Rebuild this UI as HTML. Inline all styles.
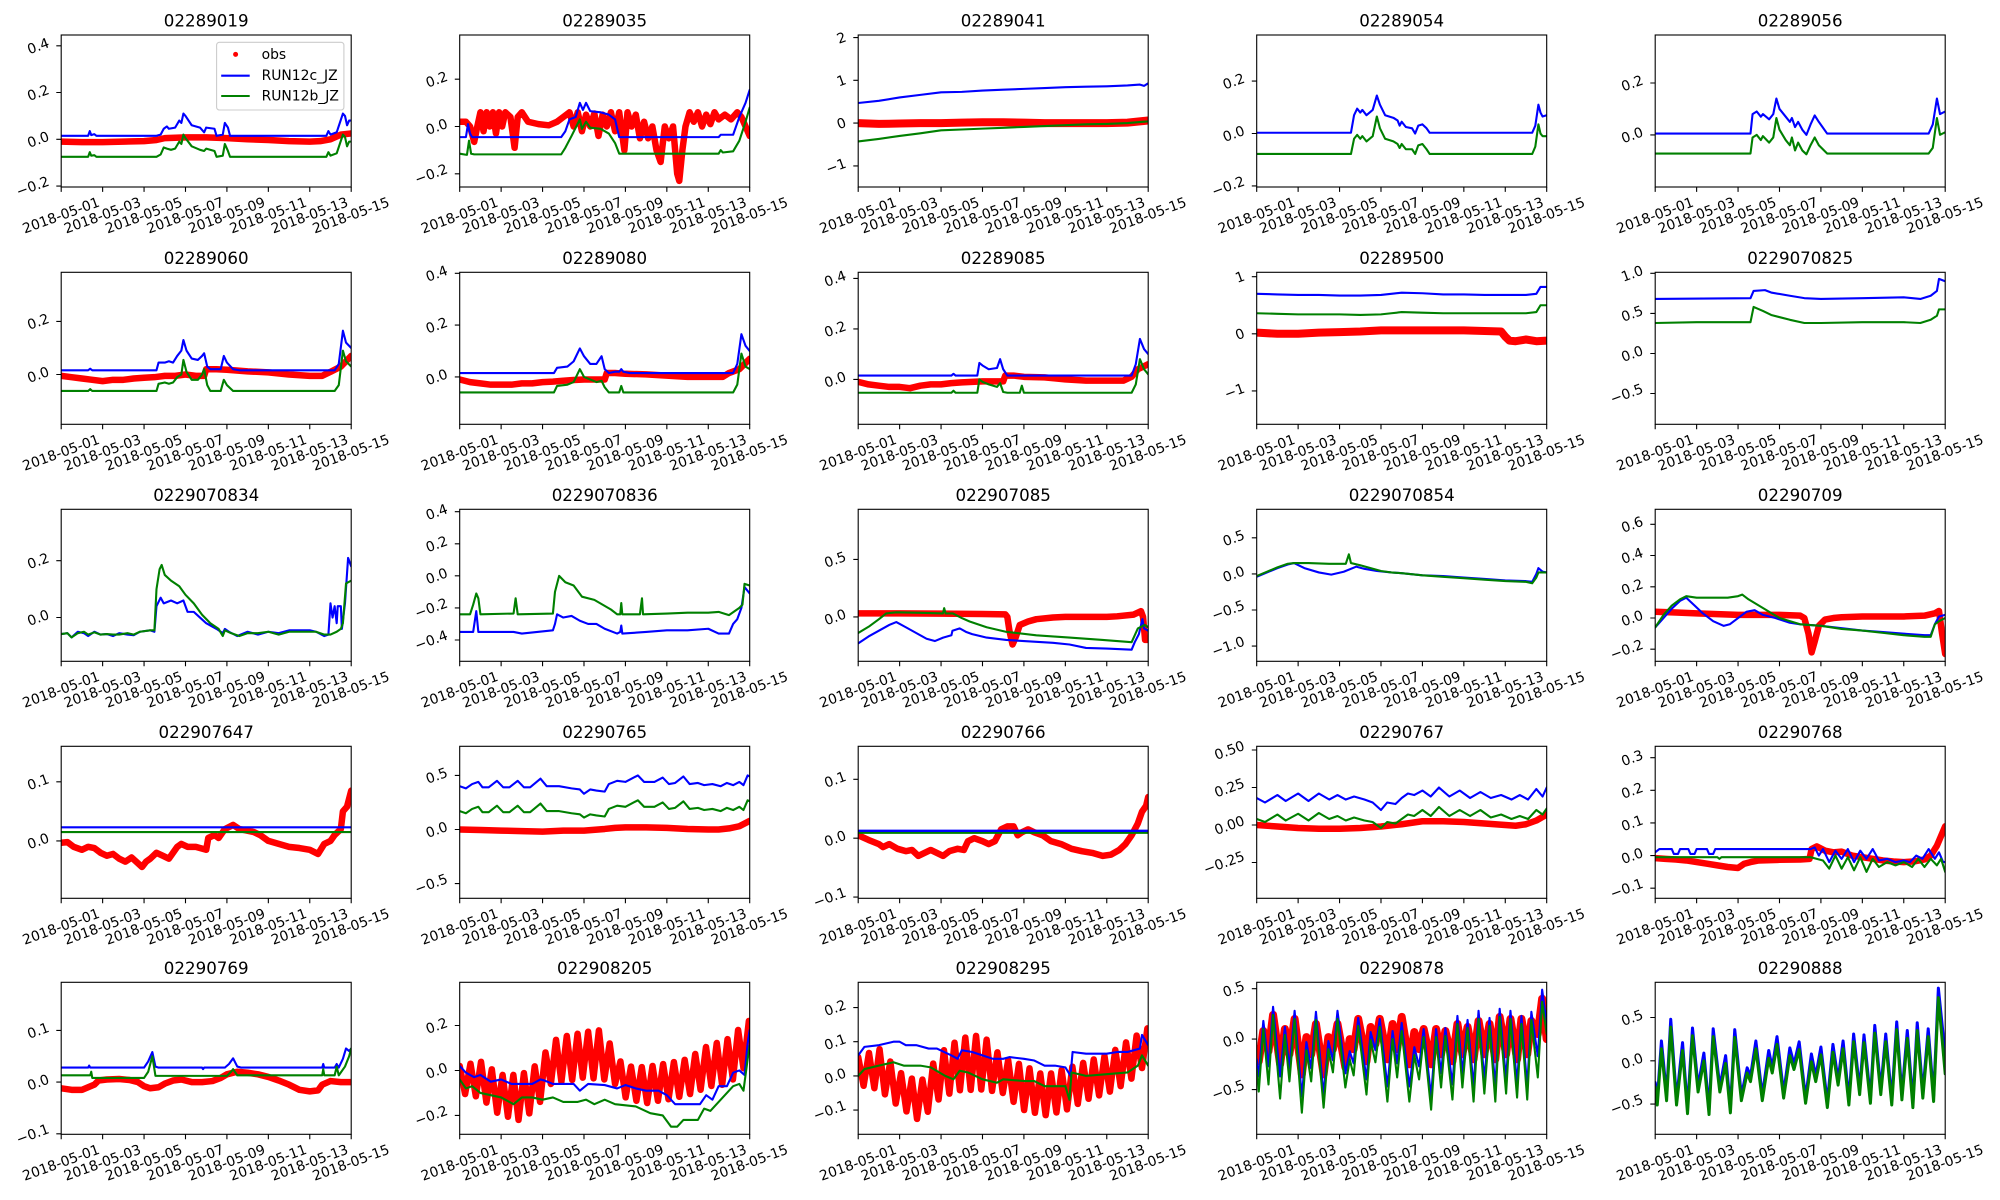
<!DOCTYPE html>
<html><head><meta charset="utf-8">
<style>
html,body{margin:0;padding:0;background:#fff;}
svg{display:block}
text{font-family:"DejaVu Sans","Liberation Sans",sans-serif;fill:#000}
.t{font-size:16.67px;text-anchor:middle}
.xl text{font-size:13.9px;text-anchor:middle;dominant-baseline:central}
.yl{font-size:13.9px;text-anchor:middle;dominant-baseline:central}
.lg{font-size:13.9px}
polyline{fill:none;vector-effect:non-scaling-stroke;stroke-linejoin:round;stroke-linecap:round}
.o{stroke:#ff0000;stroke-width:6.5}
.o8{stroke:#ff0000;stroke-width:8}
.b{stroke:#0000ff;stroke-width:2.1}
.g{stroke:#008000;stroke-width:2.1}
.ax{fill:none;stroke:#000;stroke-width:1.1}
.tk{stroke:#000;stroke-width:1.1;fill:none}
</style></head>
<body>
<svg width="2000" height="1200" viewBox="0 0 2000 1200" xmlns="http://www.w3.org/2000/svg">
<rect width="2000" height="1200" fill="#fff"/>

<!-- P1 -->
<g transform="translate(61.2,35)">
<svg width="290" height="152" viewBox="0 -0.446 14 0.65" preserveAspectRatio="none"><g transform="scale(1,-1)">
<polyline class="o" points="0,-0.01 1,-0.012 2,-0.012 3,-0.01 4,-0.008 4.6,-0.003 5,0.005 6,0.008 7,0.008 8,0.005 9,0.0 10,-0.003 11,-0.008 12,-0.01 12.5,-0.008 13,0.0 13.5,0.02 14,0.025"/>
<polyline class="b" points="0,0.015 1.3,0.015 1.38,0.035 1.45,0.018 1.6,0.022 1.7,0.015 4.6,0.015 4.8,0.02 4.95,0.045 5.1,0.055 5.2,0.045 5.5,0.05 5.7,0.08 5.8,0.07 5.9,0.11 6.0,0.1 6.3,0.06 6.7,0.05 6.9,0.03 7.0,0.05 7.4,0.045 7.5,0.015 7.8,0.02 7.9,0.07 8.05,0.05 8.15,0.015 12.8,0.015 12.9,0.035 13.0,0.02 13.3,0.03 13.6,0.11 13.7,0.1 13.8,0.06 13.9,0.08 14,0.08"/>
<polyline class="g" points="0,-0.075 1.3,-0.075 1.38,-0.055 1.45,-0.07 1.6,-0.068 1.7,-0.075 4.6,-0.075 4.8,-0.065 4.95,-0.035 5.1,-0.04 5.3,-0.045 5.5,-0.04 5.7,-0.01 5.8,-0.02 5.9,0.02 6.0,0.005 6.3,-0.03 6.7,-0.045 6.9,-0.05 7.0,-0.04 7.4,-0.05 7.5,-0.075 7.8,-0.07 7.9,-0.02 8.05,-0.05 8.15,-0.075 12.8,-0.075 12.9,-0.055 13.0,-0.07 13.3,-0.06 13.6,0.02 13.7,0.01 13.8,-0.03 13.9,-0.01 14,-0.01"/>
</g></svg>
<rect class="ax" width="290" height="152"/>
<path class="tk" d="M0 152v4.9M41.43 152v4.9M82.86 152v4.9M124.29 152v4.9M165.71 152v4.9M207.14 152v4.9M248.57 152v4.9M290 152v4.9"/>
<path class="tk" d="M-4.9 10.8h4.9M-4.9 57.5h4.9M-4.9 104.3h4.9M-4.9 151.1h4.9"/>
<text class="t" x="145" y="-8.3">02289019</text>
<text class="yl" x="-22.8" y="11.8" transform="rotate(-20 -22.8 11.8)">0.4</text>
<text class="yl" x="-22.8" y="58.5" transform="rotate(-20 -22.8 58.5)">0.2</text>
<text class="yl" x="-22.8" y="105.3" transform="rotate(-20 -22.8 105.3)">0.0</text>
<text class="yl" x="-28.3" y="152.1" transform="rotate(-20 -28.3 152.1)">−0.2</text>
<g class="xl"><text x="0" y="181" transform="rotate(-20 0 181)">2018-05-01</text><text x="41.43" y="181" transform="rotate(-20 41.43 181)">2018-05-03</text><text x="82.86" y="181" transform="rotate(-20 82.86 181)">2018-05-05</text><text x="124.29" y="181" transform="rotate(-20 124.29 181)">2018-05-07</text><text x="165.71" y="181" transform="rotate(-20 165.71 181)">2018-05-09</text><text x="207.14" y="181" transform="rotate(-20 207.14 181)">2018-05-11</text><text x="248.57" y="181" transform="rotate(-20 248.57 181)">2018-05-13</text><text x="290" y="181" transform="rotate(-20 290 181)">2018-05-15</text></g>
<rect x="155.4" y="7.3" width="127.3" height="67.7" rx="2.8" fill="#fff" fill-opacity="0.8" stroke="#cccccc" stroke-width="1.1"/>
<circle cx="174.4" cy="19.4" r="2.5" fill="#ff0000"/>
<line x1="160" y1="40.7" x2="188.5" y2="40.7" stroke="#0000ff" stroke-width="2.1"/>
<line x1="160" y1="61" x2="188.5" y2="61" stroke="#008000" stroke-width="2.1"/>
<text class="lg" x="200.4" y="24">obs</text>
<text class="lg" x="200.4" y="45.2">RUN12c_JZ</text>
<text class="lg" x="200.4" y="65.5">RUN12b_JZ</text>
</g>

<!-- P2 -->
<g transform="translate(459.7,35)">
<svg width="290" height="152" viewBox="0 -0.387 14 0.643" preserveAspectRatio="none"><g transform="scale(1,-1)">
<polyline class="o" points="0,0.02 0.3,0.02 0.5,0.0 0.7,-0.065 0.85,0.0 1.0,0.06 1.15,-0.02 1.3,0.06 1.45,0.0 1.6,0.06 1.75,-0.03 1.9,0.06 2.05,0.0 2.2,0.06 2.45,0.04 2.65,-0.09 2.8,0.04 3.0,0.06 3.3,0.02 3.8,0.01 4.3,0.005 4.7,0.02 5.0,0.04 5.3,0.06 5.5,0.0 5.7,0.06 5.9,-0.02 6.1,0.05 6.3,0.0 6.5,0.055 6.7,-0.04 6.9,0.05 7.1,0.0 7.3,0.06 7.5,-0.02 7.7,0.06 7.95,-0.1 8.1,0.06 8.3,0.0 8.5,0.05 8.7,-0.05 8.9,0.02 9.1,-0.05 9.3,0.0 9.5,-0.1 9.7,-0.15 9.9,0.0 10.1,-0.05 10.3,0.0 10.5,-0.2 10.6,-0.23 10.75,-0.1 10.9,0.0 11.1,0.06 11.3,0.02 11.5,0.06 11.7,0.0 11.9,0.05 12.1,0.01 12.3,0.06 12.5,0.03 12.8,0.05 13.1,0.03 13.4,0.06 13.6,0.04 13.8,0.0 14,-0.04"/>
<polyline class="b" points="0,-0.045 0.3,-0.045 0.4,0.01 0.5,-0.03 0.6,-0.045 4.9,-0.045 5.1,-0.02 5.3,0.03 5.6,0.04 5.8,0.1 5.95,0.07 6.1,0.1 6.3,0.065 6.8,0.06 7.2,0.05 7.5,0.03 7.7,-0.045 12.5,-0.045 12.6,-0.035 13.2,-0.035 13.5,0.04 13.8,0.1 14,0.155"/>
<polyline class="g" points="0,-0.115 0.35,-0.12 0.45,-0.06 0.55,-0.115 0.7,-0.118 4.9,-0.118 5.1,-0.09 5.4,-0.04 5.8,0.03 5.9,-0.01 6.1,0.02 6.3,-0.005 6.8,-0.01 7.2,-0.03 7.5,-0.07 7.7,-0.115 12.5,-0.115 12.6,-0.1 12.7,-0.11 13.2,-0.105 13.5,-0.06 13.8,0.02 14,0.08"/>
</g></svg>
<rect class="ax" width="290" height="152"/>
<path class="tk" d="M0 152v4.9M41.43 152v4.9M82.86 152v4.9M124.29 152v4.9M165.71 152v4.9M207.14 152v4.9M248.57 152v4.9M290 152v4.9"/>
<path class="tk" d="M-4.9 44.2h4.9M-4.9 91.5h4.9M-4.9 138.8h4.9"/>
<text class="t" x="145" y="-8.3">02289035</text>
<text class="yl" x="-22.8" y="45.2" transform="rotate(-20 -22.8 45.2)">0.2</text>
<text class="yl" x="-22.8" y="92.5" transform="rotate(-20 -22.8 92.5)">0.0</text>
<text class="yl" x="-28.3" y="139.8" transform="rotate(-20 -28.3 139.8)">−0.2</text>
<g class="xl"><text x="0" y="181" transform="rotate(-20 0 181)">2018-05-01</text><text x="41.43" y="181" transform="rotate(-20 41.43 181)">2018-05-03</text><text x="82.86" y="181" transform="rotate(-20 82.86 181)">2018-05-05</text><text x="124.29" y="181" transform="rotate(-20 124.29 181)">2018-05-07</text><text x="165.71" y="181" transform="rotate(-20 165.71 181)">2018-05-09</text><text x="207.14" y="181" transform="rotate(-20 207.14 181)">2018-05-11</text><text x="248.57" y="181" transform="rotate(-20 248.57 181)">2018-05-13</text><text x="290" y="181" transform="rotate(-20 290 181)">2018-05-15</text></g>
</g>

<!-- P3 -->
<g transform="translate(858.2,35)">
<svg width="290" height="152" viewBox="0 -2.06 14 3.555" preserveAspectRatio="none"><g transform="scale(1,-1)">
<polyline class="o8" points="0,0.0 1,-0.02 2,-0.01 3,0.0 4,0.0 5,0.01 6,0.02 7,0.02 8,0.01 9,0.0 10,0.0 11,0.0 12,0.0 13,0.01 14,0.06"/>
<polyline class="b" points="0,0.47 1,0.52 2,0.6 3,0.66 4,0.72 5,0.73 6,0.76 7,0.78 8,0.8 9,0.82 10,0.84 11,0.85 12,0.86 13,0.88 13.6,0.9 13.8,0.87 14,0.93"/>
<polyline class="g" points="0,-0.43 1,-0.37 2,-0.3 3,-0.24 4,-0.17 5,-0.15 6,-0.13 7,-0.11 8,-0.09 9,-0.07 10,-0.05 11,-0.03 12,-0.02 13,0.0 14,0.04"/>
</g></svg>
<rect class="ax" width="290" height="152"/>
<path class="tk" d="M0 152v4.9M41.43 152v4.9M82.86 152v4.9M124.29 152v4.9M165.71 152v4.9M207.14 152v4.9M248.57 152v4.9M290 152v4.9"/>
<path class="tk" d="M-4.9 2.6h4.9M-4.9 45.3h4.9M-4.9 88.1h4.9M-4.9 130.9h4.9"/>
<text class="t" x="145" y="-8.3">02289041</text>
<text class="yl" x="-16.6" y="3.6" transform="rotate(-20 -16.6 3.6)">2</text>
<text class="yl" x="-16.6" y="46.3" transform="rotate(-20 -16.6 46.3)">1</text>
<text class="yl" x="-16.6" y="89.1" transform="rotate(-20 -16.6 89.1)">0</text>
<text class="yl" x="-22" y="131.9" transform="rotate(-20 -22 131.9)">−1</text>
<g class="xl"><text x="0" y="181" transform="rotate(-20 0 181)">2018-05-01</text><text x="41.43" y="181" transform="rotate(-20 41.43 181)">2018-05-03</text><text x="82.86" y="181" transform="rotate(-20 82.86 181)">2018-05-05</text><text x="124.29" y="181" transform="rotate(-20 124.29 181)">2018-05-07</text><text x="165.71" y="181" transform="rotate(-20 165.71 181)">2018-05-09</text><text x="207.14" y="181" transform="rotate(-20 207.14 181)">2018-05-11</text><text x="248.57" y="181" transform="rotate(-20 248.57 181)">2018-05-13</text><text x="290" y="181" transform="rotate(-20 290 181)">2018-05-15</text></g>
</g>

<!-- P4 -->
<g transform="translate(1256.7,35)">
<svg width="290" height="152" viewBox="0 -0.376 14 0.58" preserveAspectRatio="none"><g transform="scale(1,-1)">
<polyline class="b" points="0,0.003 4.55,0.003 4.7,0.07 4.85,0.095 5.0,0.08 5.1,0.09 5.3,0.07 5.6,0.09 5.8,0.145 5.95,0.11 6.2,0.07 6.6,0.06 6.8,0.05 6.9,0.03 7.0,0.045 7.2,0.025 7.5,0.02 7.65,0.0 7.8,0.03 8.0,0.035 8.2,0.02 8.35,0.003 13.3,0.003 13.45,0.03 13.6,0.11 13.7,0.08 13.8,0.065 14,0.07"/>
<polyline class="g" points="0,-0.078 4.55,-0.078 4.7,-0.02 4.85,-0.005 5.0,-0.02 5.1,-0.01 5.3,-0.03 5.6,-0.01 5.8,0.065 5.95,0.02 6.2,-0.02 6.6,-0.03 6.8,-0.04 6.9,-0.055 7.0,-0.04 7.2,-0.06 7.5,-0.06 7.65,-0.078 7.8,-0.045 8.0,-0.04 8.2,-0.06 8.35,-0.078 13.3,-0.078 13.45,-0.05 13.6,0.035 13.7,0.0 13.8,-0.01 14,-0.01"/>
</g></svg>
<rect class="ax" width="290" height="152"/>
<path class="tk" d="M0 152v4.9M41.43 152v4.9M82.86 152v4.9M124.29 152v4.9M165.71 152v4.9M207.14 152v4.9M248.57 152v4.9M290 152v4.9"/>
<path class="tk" d="M-4.9 46.1h4.9M-4.9 98.5h4.9M-4.9 150.95h4.9"/>
<text class="t" x="145" y="-8.3">02289054</text>
<text class="yl" x="-22.8" y="47.1" transform="rotate(-20 -22.8 47.1)">0.2</text>
<text class="yl" x="-22.8" y="99.5" transform="rotate(-20 -22.8 99.5)">0.0</text>
<text class="yl" x="-28.3" y="151.95" transform="rotate(-20 -28.3 151.95)">−0.2</text>
<g class="xl"><text x="0" y="181" transform="rotate(-20 0 181)">2018-05-01</text><text x="41.43" y="181" transform="rotate(-20 41.43 181)">2018-05-03</text><text x="82.86" y="181" transform="rotate(-20 82.86 181)">2018-05-05</text><text x="124.29" y="181" transform="rotate(-20 124.29 181)">2018-05-07</text><text x="165.71" y="181" transform="rotate(-20 165.71 181)">2018-05-09</text><text x="207.14" y="181" transform="rotate(-20 207.14 181)">2018-05-11</text><text x="248.57" y="181" transform="rotate(-20 248.57 181)">2018-05-13</text><text x="290" y="181" transform="rotate(-20 290 181)">2018-05-15</text></g>
</g>

<!-- P5 -->
<g transform="translate(1655.2,35)">
<svg width="290" height="152" viewBox="0 -0.385 14 0.586" preserveAspectRatio="none"><g transform="scale(1,-1)">
<polyline class="b" points="0,0.005 4.6,0.005 4.7,0.08 4.9,0.09 5.1,0.07 5.2,0.08 5.5,0.06 5.7,0.08 5.85,0.14 6.0,0.1 6.3,0.07 6.5,0.05 6.6,0.065 6.75,0.03 6.9,0.05 7.1,0.02 7.3,0.0 7.5,0.04 7.7,0.075 7.9,0.05 8.3,0.005 13.2,0.005 13.4,0.04 13.6,0.14 13.75,0.08 14,0.09"/>
<polyline class="g" points="0,-0.072 4.6,-0.072 4.7,-0.01 4.9,0.0 5.1,-0.02 5.2,-0.005 5.5,-0.03 5.7,-0.01 5.85,0.065 6.0,0.02 6.3,-0.02 6.5,-0.04 6.6,-0.01 6.75,-0.06 6.9,-0.03 7.1,-0.06 7.3,-0.075 7.5,-0.04 7.7,-0.01 7.9,-0.04 8.3,-0.072 13.2,-0.072 13.4,-0.05 13.6,0.065 13.75,0.0 14,0.01"/>
</g></svg>
<rect class="ax" width="290" height="152"/>
<path class="tk" d="M0 152v4.9M41.43 152v4.9M82.86 152v4.9M124.29 152v4.9M165.71 152v4.9M207.14 152v4.9M248.57 152v4.9M290 152v4.9"/>
<path class="tk" d="M-4.9 48h4.9M-4.9 99.9h4.9"/>
<text class="t" x="145" y="-8.3">02289056</text>
<text class="yl" x="-22.8" y="49" transform="rotate(-20 -22.8 49)">0.2</text>
<text class="yl" x="-22.8" y="100.9" transform="rotate(-20 -22.8 100.9)">0.0</text>
<g class="xl"><text x="0" y="181" transform="rotate(-20 0 181)">2018-05-01</text><text x="41.43" y="181" transform="rotate(-20 41.43 181)">2018-05-03</text><text x="82.86" y="181" transform="rotate(-20 82.86 181)">2018-05-05</text><text x="124.29" y="181" transform="rotate(-20 124.29 181)">2018-05-07</text><text x="165.71" y="181" transform="rotate(-20 165.71 181)">2018-05-09</text><text x="207.14" y="181" transform="rotate(-20 207.14 181)">2018-05-11</text><text x="248.57" y="181" transform="rotate(-20 248.57 181)">2018-05-13</text><text x="290" y="181" transform="rotate(-20 290 181)">2018-05-15</text></g>
</g>

<!-- P6 -->
<g transform="translate(61.2,272.3)">
<svg width="290" height="152" viewBox="0 -0.385 14 0.5725" preserveAspectRatio="none"><g transform="scale(1,-1)">
<polyline class="o" points="0,-0.005 0.5,-0.01 1,-0.015 1.5,-0.02 2,-0.025 2.5,-0.02 3,-0.02 3.5,-0.015 4,-0.012 4.5,-0.01 5,-0.005 5.5,-0.005 6,0.0 6.5,-0.005 6.9,-0.005 7.0,0.02 7.5,0.02 8,0.018 9,0.012 10,0.008 11,0.0 12,-0.005 12.6,-0.005 13,0.01 13.5,0.03 14,0.07"/>
<polyline class="b" points="0,0.016 1.3,0.016 1.4,0.022 1.5,0.016 4.6,0.016 4.7,0.045 5.0,0.045 5.2,0.05 5.4,0.045 5.6,0.07 5.8,0.09 5.9,0.13 6.05,0.09 6.3,0.06 6.6,0.055 6.8,0.07 6.9,0.08 7.05,0.03 7.2,0.02 7.7,0.02 7.85,0.07 8.0,0.045 8.3,0.02 8.6,0.016 13.2,0.016 13.4,0.04 13.6,0.165 13.75,0.12 14,0.1"/>
<polyline class="g" points="0,-0.062 1.3,-0.062 1.4,-0.055 1.5,-0.062 4.6,-0.062 4.7,-0.035 5.0,-0.03 5.2,-0.035 5.4,-0.03 5.6,-0.01 5.8,0.0 5.9,0.055 6.05,0.01 6.3,-0.02 6.6,-0.02 6.8,0.0 6.9,0.02 7.05,-0.04 7.2,-0.062 7.7,-0.062 7.85,-0.02 8.0,-0.04 8.3,-0.062 13.2,-0.062 13.4,-0.04 13.6,0.09 13.75,0.05 14,0.03"/>
</g></svg>
<rect class="ax" width="290" height="152"/>
<path class="tk" d="M0 152v4.9M41.43 152v4.9M82.86 152v4.9M124.29 152v4.9M165.71 152v4.9M207.14 152v4.9M248.57 152v4.9M290 152v4.9"/>
<path class="tk" d="M-4.9 49.1h4.9M-4.9 102.2h4.9"/>
<text class="t" x="145" y="-8.3">02289060</text>
<text class="yl" x="-22.8" y="50.1" transform="rotate(-20 -22.8 50.1)">0.2</text>
<text class="yl" x="-22.8" y="103.2" transform="rotate(-20 -22.8 103.2)">0.0</text>
<g class="xl"><text x="0" y="181" transform="rotate(-20 0 181)">2018-05-01</text><text x="41.43" y="181" transform="rotate(-20 41.43 181)">2018-05-03</text><text x="82.86" y="181" transform="rotate(-20 82.86 181)">2018-05-05</text><text x="124.29" y="181" transform="rotate(-20 124.29 181)">2018-05-07</text><text x="165.71" y="181" transform="rotate(-20 165.71 181)">2018-05-09</text><text x="207.14" y="181" transform="rotate(-20 207.14 181)">2018-05-11</text><text x="248.57" y="181" transform="rotate(-20 248.57 181)">2018-05-13</text><text x="290" y="181" transform="rotate(-20 290 181)">2018-05-15</text></g>
</g>

<!-- P7 -->
<g transform="translate(459.7,272.3)">
<svg width="290" height="152" viewBox="0 -0.404 14 0.587" preserveAspectRatio="none"><g transform="scale(1,-1)">
<polyline class="o" points="0,-0.01 0.5,-0.02 1,-0.025 1.5,-0.03 2,-0.03 2.5,-0.03 3,-0.025 3.5,-0.025 4,-0.02 4.5,-0.018 5,-0.015 5.5,-0.012 6,-0.01 6.5,-0.01 7.0,-0.01 7.1,0.015 7.5,0.015 8,0.012 9,0.01 10,0.005 11,0.0 12,0.0 12.7,0.0 13,0.015 13.5,0.03 14,0.07"/>
<polyline class="b" points="0,0.015 4.55,0.015 4.7,0.035 5.2,0.04 5.5,0.06 5.8,0.11 6.0,0.08 6.3,0.05 6.6,0.05 6.85,0.08 7.0,0.03 7.2,0.015 7.5,0.02 7.7,0.02 7.8,0.03 7.9,0.02 8.2,0.015 13.2,0.015 13.4,0.05 13.6,0.165 13.8,0.12 14,0.1"/>
<polyline class="g" points="0,-0.06 4.55,-0.06 4.7,-0.035 5.2,-0.03 5.5,-0.02 5.8,0.03 6.0,0.0 6.3,-0.01 6.6,-0.02 6.85,-0.015 7.0,-0.04 7.2,-0.06 7.7,-0.06 7.8,-0.035 7.9,-0.06 13.2,-0.06 13.4,-0.03 13.6,0.09 13.8,0.04 14,0.03"/>
</g></svg>
<rect class="ax" width="290" height="152"/>
<path class="tk" d="M0 152v4.9M41.43 152v4.9M82.86 152v4.9M124.29 152v4.9M165.71 152v4.9M207.14 152v4.9M248.57 152v4.9M290 152v4.9"/>
<path class="tk" d="M-4.9 1h4.9M-4.9 52.8h4.9M-4.9 104.6h4.9"/>
<text class="t" x="145" y="-8.3">02289080</text>
<text class="yl" x="-22.8" y="2" transform="rotate(-20 -22.8 2)">0.4</text>
<text class="yl" x="-22.8" y="53.8" transform="rotate(-20 -22.8 53.8)">0.2</text>
<text class="yl" x="-22.8" y="105.6" transform="rotate(-20 -22.8 105.6)">0.0</text>
<g class="xl"><text x="0" y="181" transform="rotate(-20 0 181)">2018-05-01</text><text x="41.43" y="181" transform="rotate(-20 41.43 181)">2018-05-03</text><text x="82.86" y="181" transform="rotate(-20 82.86 181)">2018-05-05</text><text x="124.29" y="181" transform="rotate(-20 124.29 181)">2018-05-07</text><text x="165.71" y="181" transform="rotate(-20 165.71 181)">2018-05-09</text><text x="207.14" y="181" transform="rotate(-20 207.14 181)">2018-05-11</text><text x="248.57" y="181" transform="rotate(-20 248.57 181)">2018-05-13</text><text x="290" y="181" transform="rotate(-20 290 181)">2018-05-15</text></g>
</g>

<!-- P8 -->
<g transform="translate(858.2,272.3)">
<svg width="290" height="152" viewBox="0 -0.424 14 0.602" preserveAspectRatio="none"><g transform="scale(1,-1)">
<polyline class="o" points="0,-0.01 0.5,-0.02 1,-0.025 1.5,-0.03 2,-0.03 2.5,-0.035 3,-0.025 3.5,-0.02 4,-0.02 4.5,-0.015 5,-0.012 5.5,-0.01 6,-0.008 6.5,-0.008 7.0,-0.008 7.1,0.015 7.5,0.015 8,0.01 9,0.008 10,0.0 11,-0.005 12,-0.005 12.8,-0.005 13.2,0.01 13.5,0.04 14,0.06"/>
<polyline class="b" points="0,0.015 4.5,0.015 4.6,0.022 4.7,0.015 5.75,0.015 5.85,0.065 6.0,0.055 6.3,0.04 6.7,0.045 6.85,0.08 7.0,0.04 7.2,0.015 13.2,0.015 13.4,0.06 13.6,0.16 13.8,0.12 14,0.1"/>
<polyline class="g" points="0,-0.053 4.5,-0.053 4.6,-0.045 4.7,-0.053 5.75,-0.053 5.85,0.0 6.0,-0.01 6.3,-0.02 6.7,-0.03 6.85,-0.015 7.0,-0.05 7.2,-0.053 7.8,-0.053 7.9,-0.025 8.0,-0.053 13.2,-0.053 13.4,-0.02 13.6,0.08 13.8,0.04 14,0.02"/>
</g></svg>
<rect class="ax" width="290" height="152"/>
<path class="tk" d="M0 152v4.9M41.43 152v4.9M82.86 152v4.9M124.29 152v4.9M165.71 152v4.9M207.14 152v4.9M248.57 152v4.9M290 152v4.9"/>
<path class="tk" d="M-4.9 6.1h4.9M-4.9 56.6h4.9M-4.9 107.1h4.9"/>
<text class="t" x="145" y="-8.3">02289085</text>
<text class="yl" x="-22.8" y="7.1" transform="rotate(-20 -22.8 7.1)">0.4</text>
<text class="yl" x="-22.8" y="57.6" transform="rotate(-20 -22.8 57.6)">0.2</text>
<text class="yl" x="-22.8" y="108.1" transform="rotate(-20 -22.8 108.1)">0.0</text>
<g class="xl"><text x="0" y="181" transform="rotate(-20 0 181)">2018-05-01</text><text x="41.43" y="181" transform="rotate(-20 41.43 181)">2018-05-03</text><text x="82.86" y="181" transform="rotate(-20 82.86 181)">2018-05-05</text><text x="124.29" y="181" transform="rotate(-20 124.29 181)">2018-05-07</text><text x="165.71" y="181" transform="rotate(-20 165.71 181)">2018-05-09</text><text x="207.14" y="181" transform="rotate(-20 207.14 181)">2018-05-11</text><text x="248.57" y="181" transform="rotate(-20 248.57 181)">2018-05-13</text><text x="290" y="181" transform="rotate(-20 290 181)">2018-05-15</text></g>
</g>

<!-- P9 -->
<g transform="translate(1256.7,272.3)">
<svg width="290" height="152" viewBox="0 -1.077 14 2.662" preserveAspectRatio="none"><g transform="scale(1,-1)">
<polyline class="o8" points="0,0.02 1,0.0 2,0.0 3,0.02 4,0.03 5,0.04 6,0.06 7,0.06 8,0.06 9,0.06 10,0.06 11,0.05 11.8,0.04 12.0,-0.05 12.2,-0.12 12.5,-0.13 13,-0.1 13.5,-0.13 14,-0.12"/>
<polyline class="b" points="0,0.7 1,0.69 2,0.68 3,0.68 4,0.67 5,0.67 6,0.68 6.5,0.7 7,0.72 8,0.71 9,0.69 10,0.69 11,0.68 12,0.68 13,0.68 13.5,0.7 13.7,0.82 14,0.82"/>
<polyline class="g" points="0,0.36 1,0.35 2,0.34 3,0.34 4,0.34 5,0.33 6,0.34 6.5,0.36 7,0.38 8,0.37 9,0.36 10,0.36 11,0.36 12,0.36 13,0.36 13.5,0.38 13.7,0.5 14,0.5"/>
</g></svg>
<rect class="ax" width="290" height="152"/>
<path class="tk" d="M0 152v4.9M41.43 152v4.9M82.86 152v4.9M124.29 152v4.9M165.71 152v4.9M207.14 152v4.9M248.57 152v4.9M290 152v4.9"/>
<path class="tk" d="M-4.9 4.4h4.9M-4.9 61.5h4.9M-4.9 118.6h4.9"/>
<text class="t" x="145" y="-8.3">02289500</text>
<text class="yl" x="-16.6" y="5.4" transform="rotate(-20 -16.6 5.4)">1</text>
<text class="yl" x="-16.6" y="62.5" transform="rotate(-20 -16.6 62.5)">0</text>
<text class="yl" x="-22" y="119.6" transform="rotate(-20 -22 119.6)">−1</text>
<g class="xl"><text x="0" y="181" transform="rotate(-20 0 181)">2018-05-01</text><text x="41.43" y="181" transform="rotate(-20 41.43 181)">2018-05-03</text><text x="82.86" y="181" transform="rotate(-20 82.86 181)">2018-05-05</text><text x="124.29" y="181" transform="rotate(-20 124.29 181)">2018-05-07</text><text x="165.71" y="181" transform="rotate(-20 165.71 181)">2018-05-09</text><text x="207.14" y="181" transform="rotate(-20 207.14 181)">2018-05-11</text><text x="248.57" y="181" transform="rotate(-20 248.57 181)">2018-05-13</text><text x="290" y="181" transform="rotate(-20 290 181)">2018-05-15</text></g>
</g>

<!-- P10 -->
<g transform="translate(1655.2,272.3)">
<svg width="290" height="152" viewBox="0 -1.0125 14 1.8965" preserveAspectRatio="none"><g transform="scale(1,-1)">
<polyline class="b" points="0,0.68 4.6,0.69 4.75,0.78 5.3,0.79 5.6,0.76 6.5,0.72 7.2,0.69 8,0.68 10,0.69 12,0.7 12.8,0.68 13.3,0.72 13.6,0.78 13.7,0.93 14,0.9"/>
<polyline class="g" points="0,0.38 2,0.39 4.6,0.39 4.75,0.58 5.2,0.53 5.6,0.48 6.5,0.42 7.2,0.38 8,0.38 10,0.39 12,0.39 12.8,0.38 13.3,0.42 13.6,0.47 13.7,0.55 14,0.55"/>
</g></svg>
<rect class="ax" width="290" height="152"/>
<path class="tk" d="M0 152v4.9M41.43 152v4.9M82.86 152v4.9M124.29 152v4.9M165.71 152v4.9M207.14 152v4.9M248.57 152v4.9M290 152v4.9"/>
<path class="tk" d="M-4.9 1h4.9M-4.9 41.1h4.9M-4.9 81.2h4.9M-4.9 121.2h4.9"/>
<text class="t" x="145" y="-8.3">0229070825</text>
<text class="yl" x="-22.8" y="2" transform="rotate(-20 -22.8 2)">1.0</text>
<text class="yl" x="-22.8" y="42.1" transform="rotate(-20 -22.8 42.1)">0.5</text>
<text class="yl" x="-22.8" y="82.2" transform="rotate(-20 -22.8 82.2)">0.0</text>
<text class="yl" x="-28.3" y="122.2" transform="rotate(-20 -28.3 122.2)">−0.5</text>
<g class="xl"><text x="0" y="181" transform="rotate(-20 0 181)">2018-05-01</text><text x="41.43" y="181" transform="rotate(-20 41.43 181)">2018-05-03</text><text x="82.86" y="181" transform="rotate(-20 82.86 181)">2018-05-05</text><text x="124.29" y="181" transform="rotate(-20 124.29 181)">2018-05-07</text><text x="165.71" y="181" transform="rotate(-20 165.71 181)">2018-05-09</text><text x="207.14" y="181" transform="rotate(-20 207.14 181)">2018-05-11</text><text x="248.57" y="181" transform="rotate(-20 248.57 181)">2018-05-13</text><text x="290" y="181" transform="rotate(-20 290 181)">2018-05-15</text></g>
</g>

<!-- P11 -->
<g transform="translate(61.2,509.3)">
<svg width="290" height="152" viewBox="0 -0.381 14 0.535" preserveAspectRatio="none"><g transform="scale(1,-1)">
<polyline class="b" points="0,-0.058 0.3,-0.055 0.5,-0.07 0.8,-0.05 1.1,-0.055 1.3,-0.065 1.6,-0.05 1.9,-0.06 2.2,-0.058 2.5,-0.065 2.8,-0.055 3.2,-0.06 3.5,-0.062 3.8,-0.05 4.3,-0.045 4.5,-0.05 4.6,0.04 4.8,0.07 4.95,0.05 5.3,0.06 5.6,0.05 5.9,0.06 6.1,0.02 6.4,0.02 6.7,0.0 7.0,-0.02 7.5,-0.04 7.8,-0.055 7.9,-0.04 8.1,-0.05 8.5,-0.065 9.0,-0.05 9.5,-0.06 10,-0.05 10.5,-0.055 11,-0.045 11.5,-0.045 12,-0.045 12.3,-0.05 12.7,-0.065 12.9,-0.06 13.0,0.05 13.1,0.0 13.2,0.04 13.3,-0.02 13.35,0.04 13.5,0.04 13.55,-0.04 13.7,0.05 13.85,0.21 14,0.18"/>
<polyline class="g" points="0,-0.058 0.3,-0.055 0.5,-0.07 0.8,-0.055 1.1,-0.05 1.3,-0.06 1.6,-0.052 1.9,-0.06 2.2,-0.058 2.5,-0.06 2.8,-0.06 3.2,-0.055 3.5,-0.06 3.8,-0.05 4.3,-0.045 4.5,-0.045 4.6,0.1 4.75,0.17 4.85,0.185 5.0,0.15 5.3,0.13 5.7,0.11 6.0,0.08 6.4,0.05 6.8,0.01 7.2,-0.02 7.6,-0.04 7.8,-0.065 7.9,-0.045 8.2,-0.055 8.6,-0.065 9,-0.055 9.5,-0.055 10,-0.05 10.5,-0.06 11,-0.05 11.5,-0.05 12,-0.05 12.3,-0.05 12.7,-0.06 13.0,-0.06 13.3,-0.05 13.5,-0.04 13.6,-0.02 13.75,0.12 14,0.13"/>
</g></svg>
<rect class="ax" width="290" height="152"/>
<path class="tk" d="M0 152v4.9M41.43 152v4.9M82.86 152v4.9M124.29 152v4.9M165.71 152v4.9M207.14 152v4.9M248.57 152v4.9M290 152v4.9"/>
<path class="tk" d="M-4.9 51.4h4.9M-4.9 108.2h4.9"/>
<text class="t" x="145" y="-8.3">0229070834</text>
<text class="yl" x="-22.8" y="52.4" transform="rotate(-20 -22.8 52.4)">0.2</text>
<text class="yl" x="-22.8" y="109.2" transform="rotate(-20 -22.8 109.2)">0.0</text>
<g class="xl"><text x="0" y="181" transform="rotate(-20 0 181)">2018-05-01</text><text x="41.43" y="181" transform="rotate(-20 41.43 181)">2018-05-03</text><text x="82.86" y="181" transform="rotate(-20 82.86 181)">2018-05-05</text><text x="124.29" y="181" transform="rotate(-20 124.29 181)">2018-05-07</text><text x="165.71" y="181" transform="rotate(-20 165.71 181)">2018-05-09</text><text x="207.14" y="181" transform="rotate(-20 207.14 181)">2018-05-11</text><text x="248.57" y="181" transform="rotate(-20 248.57 181)">2018-05-13</text><text x="290" y="181" transform="rotate(-20 290 181)">2018-05-15</text></g>
</g>

<!-- P12 -->
<g transform="translate(459.7,509.3)">
<svg width="290" height="152" viewBox="0 -0.415 14 0.948" preserveAspectRatio="none"><g transform="scale(1,-1)">
<polyline class="b" points="0,-0.35 0.5,-0.35 0.65,-0.35 0.8,-0.22 0.9,-0.35 2.6,-0.35 3,-0.36 4.5,-0.34 4.6,-0.3 4.7,-0.24 5.0,-0.26 5.4,-0.25 5.8,-0.28 6.2,-0.3 6.6,-0.3 7.0,-0.33 7.6,-0.36 7.75,-0.35 7.8,-0.31 7.85,-0.36 9,-0.35 10,-0.34 11,-0.34 12,-0.33 12.5,-0.36 13,-0.36 13.2,-0.3 13.4,-0.27 13.6,-0.2 13.75,-0.07 14,-0.11"/>
<polyline class="g" points="0,-0.24 0.5,-0.24 0.65,-0.18 0.8,-0.11 0.9,-0.14 1.0,-0.24 2.6,-0.235 2.7,-0.14 2.8,-0.24 4.5,-0.235 4.6,-0.1 4.8,0.0 5.1,-0.04 5.5,-0.06 5.9,-0.13 6.5,-0.15 7.3,-0.21 7.6,-0.24 7.75,-0.24 7.8,-0.17 7.85,-0.24 8.7,-0.24 8.8,-0.14 8.85,-0.24 10,-0.235 11,-0.23 12,-0.23 12.5,-0.225 13,-0.245 13.5,-0.2 13.65,-0.18 13.75,-0.05 14,-0.06"/>
</g></svg>
<rect class="ax" width="290" height="152"/>
<path class="tk" d="M0 152v4.9M41.43 152v4.9M82.86 152v4.9M124.29 152v4.9M165.71 152v4.9M207.14 152v4.9M248.57 152v4.9M290 152v4.9"/>
<path class="tk" d="M-4.9 2.4h4.9M-4.9 34.5h4.9M-4.9 66.5h4.9M-4.9 98.6h4.9M-4.9 130.7h4.9"/>
<text class="t" x="145" y="-8.3">0229070836</text>
<text class="yl" x="-22.8" y="3.4" transform="rotate(-20 -22.8 3.4)">0.4</text>
<text class="yl" x="-22.8" y="35.5" transform="rotate(-20 -22.8 35.5)">0.2</text>
<text class="yl" x="-22.8" y="67.5" transform="rotate(-20 -22.8 67.5)">0.0</text>
<text class="yl" x="-28.3" y="99.6" transform="rotate(-20 -28.3 99.6)">−0.2</text>
<text class="yl" x="-28.3" y="131.7" transform="rotate(-20 -28.3 131.7)">−0.4</text>
<g class="xl"><text x="0" y="181" transform="rotate(-20 0 181)">2018-05-01</text><text x="41.43" y="181" transform="rotate(-20 41.43 181)">2018-05-03</text><text x="82.86" y="181" transform="rotate(-20 82.86 181)">2018-05-05</text><text x="124.29" y="181" transform="rotate(-20 124.29 181)">2018-05-07</text><text x="165.71" y="181" transform="rotate(-20 165.71 181)">2018-05-09</text><text x="207.14" y="181" transform="rotate(-20 207.14 181)">2018-05-11</text><text x="248.57" y="181" transform="rotate(-20 248.57 181)">2018-05-13</text><text x="290" y="181" transform="rotate(-20 290 181)">2018-05-15</text></g>
</g>

<!-- P13 -->
<g transform="translate(858.2,509.3)">
<svg width="290" height="152" viewBox="0 -0.935 14 1.321" preserveAspectRatio="none"><g transform="scale(1,-1)">
<polyline class="o" points="0,0.03 2,0.03 4,0.028 6,0.025 7.1,0.022 7.2,0.0 7.3,-0.12 7.45,-0.24 7.6,-0.18 7.8,-0.07 8.2,-0.04 8.6,-0.02 9.4,-0.005 10,0.0 12,0.0 12.5,0.005 13.3,0.02 13.65,0.05 13.75,0.0 13.85,-0.2 14,-0.2"/>
<polyline class="b" points="0,-0.23 0.5,-0.17 1.0,-0.12 1.5,-0.07 1.84,-0.045 2.3,-0.09 2.8,-0.14 3.3,-0.19 3.7,-0.21 4.1,-0.18 4.5,-0.16 4.55,-0.12 4.9,-0.1 5.2,-0.13 5.5,-0.15 6.2,-0.18 7.15,-0.2 8,-0.21 9.4,-0.225 10.2,-0.24 11,-0.27 12,-0.275 13.2,-0.285 13.35,-0.22 13.55,-0.15 13.72,-0.02 13.8,-0.1 14,-0.12"/>
<polyline class="g" points="0,-0.14 0.55,-0.08 1.0,-0.02 1.35,0.03 1.84,0.04 3,0.035 4.09,0.03 4.15,0.076 4.22,0.03 4.57,0.03 5.0,-0.01 5.38,-0.04 6.2,-0.09 7.15,-0.13 8.6,-0.16 10.2,-0.18 11.8,-0.2 13.2,-0.22 13.5,-0.1 13.83,-0.07 14,-0.09"/>
</g></svg>
<rect class="ax" width="290" height="152"/>
<path class="tk" d="M0 152v4.9M41.43 152v4.9M82.86 152v4.9M124.29 152v4.9M165.71 152v4.9M207.14 152v4.9M248.57 152v4.9M290 152v4.9"/>
<path class="tk" d="M-4.9 50.1h4.9M-4.9 107.6h4.9"/>
<text class="t" x="145" y="-8.3">022907085</text>
<text class="yl" x="-22.8" y="51.1" transform="rotate(-20 -22.8 51.1)">0.5</text>
<text class="yl" x="-22.8" y="108.6" transform="rotate(-20 -22.8 108.6)">0.0</text>
<g class="xl"><text x="0" y="181" transform="rotate(-20 0 181)">2018-05-01</text><text x="41.43" y="181" transform="rotate(-20 41.43 181)">2018-05-03</text><text x="82.86" y="181" transform="rotate(-20 82.86 181)">2018-05-05</text><text x="124.29" y="181" transform="rotate(-20 124.29 181)">2018-05-07</text><text x="165.71" y="181" transform="rotate(-20 165.71 181)">2018-05-09</text><text x="207.14" y="181" transform="rotate(-20 207.14 181)">2018-05-11</text><text x="248.57" y="181" transform="rotate(-20 248.57 181)">2018-05-13</text><text x="290" y="181" transform="rotate(-20 290 181)">2018-05-15</text></g>
</g>

<!-- P14 -->
<g transform="translate(1256.7,509.3)">
<svg width="290" height="152" viewBox="0 -0.894 14 2.104" preserveAspectRatio="none"><g transform="scale(1,-1)">
<polyline class="b" points="0,-0.04 0.5,0.02 1.0,0.08 1.5,0.13 1.8,0.15 2.3,0.08 3.0,0.02 3.6,-0.01 4.2,0.03 4.8,0.1 5.2,0.07 5.8,0.04 6.5,0.02 7,0.01 8,-0.02 9,-0.03 10,-0.05 11,-0.07 12,-0.09 13,-0.1 13.3,-0.11 13.5,0.0 13.6,0.08 13.8,0.03 14,0.02"/>
<polyline class="g" points="0,-0.03 0.5,0.03 1.0,0.09 1.5,0.14 1.8,0.15 2.5,0.15 3.5,0.14 4.3,0.14 4.45,0.27 4.55,0.15 5.0,0.12 5.5,0.08 6,0.04 6.5,0.02 7,0.01 8,-0.02 9,-0.04 10,-0.06 11,-0.08 12,-0.1 13,-0.11 13.3,-0.13 13.5,-0.05 13.6,0.02 14,0.02"/>
</g></svg>
<rect class="ax" width="290" height="152"/>
<path class="tk" d="M0 152v4.9M41.43 152v4.9M82.86 152v4.9M124.29 152v4.9M165.71 152v4.9M207.14 152v4.9M248.57 152v4.9M290 152v4.9"/>
<path class="tk" d="M-4.9 28.5h4.9M-4.9 64.6h4.9M-4.9 100.7h4.9M-4.9 136.8h4.9"/>
<text class="t" x="145" y="-8.3">0229070854</text>
<text class="yl" x="-22.8" y="29.5" transform="rotate(-20 -22.8 29.5)">0.5</text>
<text class="yl" x="-22.8" y="65.6" transform="rotate(-20 -22.8 65.6)">0.0</text>
<text class="yl" x="-28.3" y="101.7" transform="rotate(-20 -28.3 101.7)">−0.5</text>
<text class="yl" x="-28.3" y="137.8" transform="rotate(-20 -28.3 137.8)">−1.0</text>
<g class="xl"><text x="0" y="181" transform="rotate(-20 0 181)">2018-05-01</text><text x="41.43" y="181" transform="rotate(-20 41.43 181)">2018-05-03</text><text x="82.86" y="181" transform="rotate(-20 82.86 181)">2018-05-05</text><text x="124.29" y="181" transform="rotate(-20 124.29 181)">2018-05-07</text><text x="165.71" y="181" transform="rotate(-20 165.71 181)">2018-05-09</text><text x="207.14" y="181" transform="rotate(-20 207.14 181)">2018-05-11</text><text x="248.57" y="181" transform="rotate(-20 248.57 181)">2018-05-13</text><text x="290" y="181" transform="rotate(-20 290 181)">2018-05-15</text></g>
</g>

<!-- P15 -->
<g transform="translate(1655.2,509.3)">
<svg width="290" height="152" viewBox="0 -0.696 14 0.973" preserveAspectRatio="none"><g transform="scale(1,-1)">
<polyline class="o" points="0,0.04 1,0.035 2,0.03 3,0.025 4,0.02 5,0.02 6,0.02 7,0.015 7.2,0.0 7.4,-0.1 7.55,-0.22 7.7,-0.15 7.9,-0.05 8.2,-0.01 8.6,0.0 9,0.005 10,0.01 11,0.01 12,0.01 13,0.015 13.5,0.03 13.7,0.045 13.85,-0.1 14,-0.23"/>
<polyline class="b" points="0,-0.06 0.4,0.0 0.8,0.06 1.2,0.11 1.5,0.13 1.9,0.08 2.3,0.03 2.8,-0.02 3.3,-0.05 3.6,-0.04 4.0,0.0 4.4,0.04 4.8,0.05 5.2,0.02 5.8,0.0 6.5,-0.03 7,-0.04 8,-0.05 9,-0.065 10,-0.08 11,-0.09 12,-0.1 13,-0.11 13.3,-0.11 13.5,-0.04 13.7,0.01 14,0.02"/>
<polyline class="g" points="0,-0.06 0.4,0.02 0.8,0.08 1.2,0.12 1.5,0.14 2,0.13 2.5,0.13 3,0.13 3.5,0.13 4,0.14 4.2,0.15 4.5,0.12 5,0.08 5.5,0.04 6,0.0 6.5,-0.02 7,-0.04 8,-0.05 9,-0.07 10,-0.08 11,-0.095 12,-0.11 13,-0.12 13.3,-0.12 13.5,-0.04 13.7,-0.02 14,0.0"/>
</g></svg>
<rect class="ax" width="290" height="152"/>
<path class="tk" d="M0 152v4.9M41.43 152v4.9M82.86 152v4.9M124.29 152v4.9M165.71 152v4.9M207.14 152v4.9M248.57 152v4.9M290 152v4.9"/>
<path class="tk" d="M-4.9 15h4.9M-4.9 46.2h4.9M-4.9 77.5h4.9M-4.9 108.7h4.9M-4.9 139.9h4.9"/>
<text class="t" x="145" y="-8.3">02290709</text>
<text class="yl" x="-22.8" y="16" transform="rotate(-20 -22.8 16)">0.6</text>
<text class="yl" x="-22.8" y="47.2" transform="rotate(-20 -22.8 47.2)">0.4</text>
<text class="yl" x="-22.8" y="78.5" transform="rotate(-20 -22.8 78.5)">0.2</text>
<text class="yl" x="-22.8" y="109.7" transform="rotate(-20 -22.8 109.7)">0.0</text>
<text class="yl" x="-28.3" y="140.9" transform="rotate(-20 -28.3 140.9)">−0.2</text>
<g class="xl"><text x="0" y="181" transform="rotate(-20 0 181)">2018-05-01</text><text x="41.43" y="181" transform="rotate(-20 41.43 181)">2018-05-03</text><text x="82.86" y="181" transform="rotate(-20 82.86 181)">2018-05-05</text><text x="124.29" y="181" transform="rotate(-20 124.29 181)">2018-05-07</text><text x="165.71" y="181" transform="rotate(-20 165.71 181)">2018-05-09</text><text x="207.14" y="181" transform="rotate(-20 207.14 181)">2018-05-11</text><text x="248.57" y="181" transform="rotate(-20 248.57 181)">2018-05-13</text><text x="290" y="181" transform="rotate(-20 290 181)">2018-05-15</text></g>
</g>

<!-- P16 -->
<g transform="translate(61.2,746.3)">
<svg width="290" height="152" viewBox="0 -0.16 14 0.257" preserveAspectRatio="none"><g transform="scale(1,-1)">
<polyline class="o" points="0,-0.003 0.3,-0.002 0.6,-0.01 1.0,-0.015 1.3,-0.01 1.6,-0.012 1.9,-0.02 2.2,-0.025 2.5,-0.022 2.8,-0.03 3.1,-0.035 3.4,-0.028 3.9,-0.044 4.1,-0.035 4.3,-0.03 4.6,-0.02 4.9,-0.025 5.2,-0.03 5.4,-0.02 5.6,-0.01 5.8,-0.005 6.1,-0.01 6.5,-0.01 7.0,-0.015 7.1,0.005 7.4,0.01 7.6,0.005 7.9,0.02 8.3,0.027 8.6,0.02 8.9,0.018 9.3,0.015 9.6,0.01 10,0.0 10.5,-0.005 11,-0.01 11.5,-0.012 12,-0.015 12.4,-0.022 12.7,-0.005 13.0,0.0 13.2,0.01 13.5,0.02 13.6,0.05 13.8,0.058 14,0.085"/>
<polyline class="b" points="0,0.023 14,0.023"/>
<polyline class="g" points="0,0.015 14,0.015"/>
</g></svg>
<rect class="ax" width="290" height="152"/>
<path class="tk" d="M0 152v4.9M41.43 152v4.9M82.86 152v4.9M124.29 152v4.9M165.71 152v4.9M207.14 152v4.9M248.57 152v4.9M290 152v4.9"/>
<path class="tk" d="M-4.9 35.5h4.9M-4.9 94.6h4.9"/>
<text class="t" x="145" y="-8.3">022907647</text>
<text class="yl" x="-22.8" y="36.5" transform="rotate(-20 -22.8 36.5)">0.1</text>
<text class="yl" x="-22.8" y="95.6" transform="rotate(-20 -22.8 95.6)">0.0</text>
<g class="xl"><text x="0" y="181" transform="rotate(-20 0 181)">2018-05-01</text><text x="41.43" y="181" transform="rotate(-20 41.43 181)">2018-05-03</text><text x="82.86" y="181" transform="rotate(-20 82.86 181)">2018-05-05</text><text x="124.29" y="181" transform="rotate(-20 124.29 181)">2018-05-07</text><text x="165.71" y="181" transform="rotate(-20 165.71 181)">2018-05-09</text><text x="207.14" y="181" transform="rotate(-20 207.14 181)">2018-05-11</text><text x="248.57" y="181" transform="rotate(-20 248.57 181)">2018-05-13</text><text x="290" y="181" transform="rotate(-20 290 181)">2018-05-15</text></g>
</g>

<!-- P17 -->
<g transform="translate(459.7,746.3)">
<svg width="290" height="152" viewBox="0 -0.769 14 1.405" preserveAspectRatio="none"><g transform="scale(1,-1)">
<polyline class="o" points="0,0.0 1,-0.005 2,-0.01 3,-0.015 4,-0.02 5,-0.01 6,-0.01 7,0.005 7.5,0.015 8,0.02 9,0.02 10,0.015 11,0.005 12,0.0 12.5,0.0 13,0.01 13.5,0.03 14,0.08"/>
<polyline class="b" points="0,0.4 0.3,0.38 0.6,0.42 0.9,0.44 1.1,0.39 1.4,0.39 1.8,0.45 2.1,0.39 2.4,0.39 2.8,0.45 3.1,0.39 3.4,0.39 3.9,0.47 4.2,0.4 4.8,0.4 5.4,0.38 5.8,0.37 6.0,0.33 6.3,0.37 6.6,0.36 7.0,0.35 7.2,0.42 7.6,0.45 8.0,0.44 8.6,0.5 8.9,0.44 9.4,0.44 9.8,0.48 10.1,0.42 10.4,0.43 10.8,0.49 11.1,0.42 11.5,0.43 11.8,0.41 12.2,0.42 12.6,0.4 12.9,0.43 13.2,0.41 13.5,0.44 13.7,0.41 13.9,0.5 14,0.49"/>
<polyline class="g" points="0,0.17 0.3,0.15 0.6,0.19 0.9,0.21 1.1,0.16 1.4,0.16 1.8,0.22 2.1,0.16 2.4,0.16 2.8,0.22 3.1,0.16 3.4,0.16 3.9,0.24 4.2,0.17 4.8,0.17 5.4,0.15 5.8,0.14 6.0,0.11 6.3,0.14 6.6,0.13 7.0,0.12 7.2,0.19 7.6,0.22 8.0,0.21 8.6,0.27 8.9,0.21 9.4,0.21 9.8,0.25 10.1,0.19 10.4,0.2 10.8,0.26 11.1,0.19 11.5,0.2 11.8,0.18 12.2,0.19 12.6,0.17 12.9,0.2 13.2,0.18 13.5,0.21 13.7,0.18 13.9,0.27 14,0.26"/>
</g></svg>
<rect class="ax" width="290" height="152"/>
<path class="tk" d="M0 152v4.9M41.43 152v4.9M82.86 152v4.9M124.29 152v4.9M165.71 152v4.9M207.14 152v4.9M248.57 152v4.9M290 152v4.9"/>
<path class="tk" d="M-4.9 29.1h4.9M-4.9 83.2h4.9M-4.9 137.3h4.9"/>
<text class="t" x="145" y="-8.3">02290765</text>
<text class="yl" x="-22.8" y="30.1" transform="rotate(-20 -22.8 30.1)">0.5</text>
<text class="yl" x="-22.8" y="84.2" transform="rotate(-20 -22.8 84.2)">0.0</text>
<text class="yl" x="-28.3" y="138.3" transform="rotate(-20 -28.3 138.3)">−0.5</text>
<g class="xl"><text x="0" y="181" transform="rotate(-20 0 181)">2018-05-01</text><text x="41.43" y="181" transform="rotate(-20 41.43 181)">2018-05-03</text><text x="82.86" y="181" transform="rotate(-20 82.86 181)">2018-05-05</text><text x="124.29" y="181" transform="rotate(-20 124.29 181)">2018-05-07</text><text x="165.71" y="181" transform="rotate(-20 165.71 181)">2018-05-09</text><text x="207.14" y="181" transform="rotate(-20 207.14 181)">2018-05-11</text><text x="248.57" y="181" transform="rotate(-20 248.57 181)">2018-05-13</text><text x="290" y="181" transform="rotate(-20 290 181)">2018-05-15</text></g>
</g>

<!-- P18 -->
<g transform="translate(858.2,746.3)">
<svg width="290" height="152" viewBox="0 -0.156 14 0.258" preserveAspectRatio="none"><g transform="scale(1,-1)">
<polyline class="o" points="0,0.005 0.5,-0.003 1.0,-0.01 1.2,-0.015 1.5,-0.01 1.9,-0.018 2.3,-0.022 2.6,-0.02 2.9,-0.03 3.2,-0.025 3.5,-0.02 3.8,-0.025 4.1,-0.03 4.4,-0.022 4.8,-0.018 5.1,-0.02 5.3,-0.005 5.6,0.0 6.0,-0.005 6.3,-0.01 6.6,-0.005 6.9,0.015 7.2,0.02 7.5,0.02 7.7,0.005 7.9,0.01 8.2,0.015 8.5,0.01 8.9,0.005 9.3,-0.005 9.8,-0.01 10.3,-0.018 10.8,-0.022 11.3,-0.025 11.8,-0.03 12.2,-0.028 12.6,-0.02 12.9,-0.01 13.2,0.005 13.5,0.025 13.7,0.045 13.9,0.055 14,0.07"/>
<polyline class="g" style="stroke-width:2.6" points="0,0.0095 14,0.0095"/>
<polyline class="b" style="stroke-width:2.4" points="0,0.0125 14,0.0125"/>
</g></svg>
<rect class="ax" width="290" height="152"/>
<path class="tk" d="M0 152v4.9M41.43 152v4.9M82.86 152v4.9M124.29 152v4.9M165.71 152v4.9M207.14 152v4.9M248.57 152v4.9M290 152v4.9"/>
<path class="tk" d="M-4.9 33h4.9M-4.9 91.9h4.9M-4.9 150.8h4.9"/>
<text class="t" x="145" y="-8.3">02290766</text>
<text class="yl" x="-22.8" y="34" transform="rotate(-20 -22.8 34)">0.1</text>
<text class="yl" x="-22.8" y="92.9" transform="rotate(-20 -22.8 92.9)">0.0</text>
<text class="yl" x="-28.3" y="151.8" transform="rotate(-20 -28.3 151.8)">−0.1</text>
<g class="xl"><text x="0" y="181" transform="rotate(-20 0 181)">2018-05-01</text><text x="41.43" y="181" transform="rotate(-20 41.43 181)">2018-05-03</text><text x="82.86" y="181" transform="rotate(-20 82.86 181)">2018-05-05</text><text x="124.29" y="181" transform="rotate(-20 124.29 181)">2018-05-07</text><text x="165.71" y="181" transform="rotate(-20 165.71 181)">2018-05-09</text><text x="207.14" y="181" transform="rotate(-20 207.14 181)">2018-05-11</text><text x="248.57" y="181" transform="rotate(-20 248.57 181)">2018-05-13</text><text x="290" y="181" transform="rotate(-20 290 181)">2018-05-15</text></g>
</g>

<!-- P19 -->
<g transform="translate(1256.7,746.3)">
<svg width="290" height="152" viewBox="0 -0.525 14 1.014" preserveAspectRatio="none"><g transform="scale(1,-1)">
<polyline class="o" points="0,0.0 1,-0.01 2,-0.02 3,-0.025 4,-0.025 5,-0.02 6,-0.01 7,0.005 7.5,0.015 8,0.025 9,0.025 10,0.02 11,0.01 12,0.0 12.5,-0.005 13,0.005 13.5,0.03 14,0.07"/>
<polyline class="b" points="0,0.18 0.4,0.15 1.0,0.2 1.4,0.16 2.0,0.21 2.5,0.16 3.0,0.21 3.5,0.17 3.9,0.2 4.3,0.17 4.7,0.19 5.2,0.17 5.6,0.15 6.0,0.1 6.3,0.15 6.7,0.14 7.0,0.18 7.3,0.21 7.6,0.2 8.0,0.23 8.4,0.19 8.8,0.25 9.3,0.19 9.8,0.23 10.3,0.18 10.8,0.22 11.3,0.18 11.8,0.2 12.3,0.17 12.7,0.2 13.1,0.17 13.5,0.24 13.8,0.19 14,0.25"/>
<polyline class="g" points="0,0.04 0.4,0.02 1.0,0.07 1.4,0.03 2.0,0.075 2.5,0.03 3.0,0.08 3.5,0.04 3.9,0.06 4.3,0.03 4.7,0.05 5.2,0.03 5.6,0.02 6.0,-0.02 6.3,0.02 6.7,0.01 7.0,0.04 7.3,0.07 7.6,0.06 8.0,0.1 8.4,0.06 8.8,0.12 9.3,0.06 9.8,0.1 10.3,0.06 10.8,0.1 11.3,0.05 11.8,0.07 12.3,0.04 12.7,0.06 13.1,0.04 13.5,0.1 13.8,0.07 14,0.11"/>
</g></svg>
<rect class="ax" width="290" height="152"/>
<path class="tk" d="M0 152v4.9M41.43 152v4.9M82.86 152v4.9M124.29 152v4.9M165.71 152v4.9M207.14 152v4.9M248.57 152v4.9M290 152v4.9"/>
<path class="tk" d="M-4.9 3.7h4.9M-4.9 41.2h4.9M-4.9 78.7h4.9M-4.9 116.2h4.9"/>
<text class="t" x="145" y="-8.3">02290767</text>
<text class="yl" x="-27" y="4.7" transform="rotate(-20 -27 4.7)">0.50</text>
<text class="yl" x="-27" y="42.2" transform="rotate(-20 -27 42.2)">0.25</text>
<text class="yl" x="-27" y="79.7" transform="rotate(-20 -27 79.7)">0.00</text>
<text class="yl" x="-32.5" y="117.2" transform="rotate(-20 -32.5 117.2)">−0.25</text>
<g class="xl"><text x="0" y="181" transform="rotate(-20 0 181)">2018-05-01</text><text x="41.43" y="181" transform="rotate(-20 41.43 181)">2018-05-03</text><text x="82.86" y="181" transform="rotate(-20 82.86 181)">2018-05-05</text><text x="124.29" y="181" transform="rotate(-20 124.29 181)">2018-05-07</text><text x="165.71" y="181" transform="rotate(-20 165.71 181)">2018-05-09</text><text x="207.14" y="181" transform="rotate(-20 207.14 181)">2018-05-11</text><text x="248.57" y="181" transform="rotate(-20 248.57 181)">2018-05-13</text><text x="290" y="181" transform="rotate(-20 290 181)">2018-05-15</text></g>
</g>

<!-- P20 -->
<g transform="translate(1655.2,746.3)">
<svg width="290" height="152" viewBox="0 -0.335 14 0.466" preserveAspectRatio="none"><g transform="scale(1,-1)">
<polyline class="o" points="0,-0.008 0.5,-0.01 1,-0.012 1.5,-0.015 2,-0.02 2.5,-0.025 3,-0.03 3.5,-0.035 4.0,-0.038 4.3,-0.025 4.6,-0.02 5,-0.015 6,-0.013 7,-0.012 7.45,-0.01 7.55,0.02 7.8,0.028 8.2,0.015 8.6,0.01 9,0.012 9.5,0.0 10,-0.005 10.5,-0.01 11,-0.015 11.5,-0.018 12,-0.02 12.5,-0.018 13,-0.012 13.3,0.0 13.6,0.03 13.8,0.06 14,0.09"/>
<polyline class="b" points="0,0.01 0.2,0.02 0.8,0.02 0.9,0.005 1.1,0.005 1.2,0.02 1.6,0.02 1.7,0.005 1.9,0.005 2.0,0.02 2.5,0.02 2.6,0.005 2.8,0.005 2.9,0.02 7.5,0.02 7.7,0.025 7.9,0.0 8.1,0.02 8.4,-0.02 8.7,0.015 9.0,-0.01 9.3,0.02 9.6,-0.02 9.9,0.015 10.2,-0.01 10.5,0.02 10.8,-0.015 11.2,-0.01 11.6,-0.02 12.0,-0.015 12.3,-0.02 12.6,0.0 12.9,-0.01 13.2,0.02 13.5,-0.01 13.7,0.01 13.9,-0.02 14,-0.02"/>
<polyline class="g" points="0,-0.005 3,-0.005 3.1,-0.01 3.2,-0.005 7.5,-0.005 7.8,-0.01 8.1,-0.015 8.4,-0.04 8.7,0.0 9.0,-0.04 9.3,-0.005 9.6,-0.045 9.9,-0.005 10.2,-0.05 10.5,-0.01 10.8,-0.035 11.2,-0.02 11.6,-0.03 12.0,-0.02 12.4,-0.035 12.7,-0.01 13.0,-0.035 13.3,-0.01 13.6,-0.03 13.8,-0.01 14,-0.05"/>
</g></svg>
<rect class="ax" width="290" height="152"/>
<path class="tk" d="M0 152v4.9M41.43 152v4.9M82.86 152v4.9M124.29 152v4.9M165.71 152v4.9M207.14 152v4.9M248.57 152v4.9M290 152v4.9"/>
<path class="tk" d="M-4.9 11.4h4.9M-4.9 44h4.9M-4.9 76.6h4.9M-4.9 109.3h4.9M-4.9 141.9h4.9"/>
<text class="t" x="145" y="-8.3">02290768</text>
<text class="yl" x="-22.8" y="12.4" transform="rotate(-20 -22.8 12.4)">0.3</text>
<text class="yl" x="-22.8" y="45" transform="rotate(-20 -22.8 45)">0.2</text>
<text class="yl" x="-22.8" y="77.6" transform="rotate(-20 -22.8 77.6)">0.1</text>
<text class="yl" x="-22.8" y="110.3" transform="rotate(-20 -22.8 110.3)">0.0</text>
<text class="yl" x="-28.3" y="142.9" transform="rotate(-20 -28.3 142.9)">−0.1</text>
<g class="xl"><text x="0" y="181" transform="rotate(-20 0 181)">2018-05-01</text><text x="41.43" y="181" transform="rotate(-20 41.43 181)">2018-05-03</text><text x="82.86" y="181" transform="rotate(-20 82.86 181)">2018-05-05</text><text x="124.29" y="181" transform="rotate(-20 124.29 181)">2018-05-07</text><text x="165.71" y="181" transform="rotate(-20 165.71 181)">2018-05-09</text><text x="207.14" y="181" transform="rotate(-20 207.14 181)">2018-05-11</text><text x="248.57" y="181" transform="rotate(-20 248.57 181)">2018-05-13</text><text x="290" y="181" transform="rotate(-20 290 181)">2018-05-15</text></g>
</g>

<!-- P21 -->
<g transform="translate(61.2,982.3)">
<svg width="290" height="152" viewBox="0 -0.193 14 0.294" preserveAspectRatio="none"><g transform="scale(1,-1)">
<polyline class="o" points="0,-0.012 0.5,-0.015 1,-0.015 1.3,-0.01 1.6,-0.005 1.8,0.003 2.2,0.005 2.8,0.006 3.3,0.004 3.7,0.0 4.0,-0.008 4.3,-0.012 4.7,-0.01 5.0,-0.003 5.4,0.003 5.8,0.005 6.3,0.0 6.8,0.0 7.3,0.002 7.7,0.008 8.0,0.015 8.5,0.02 9.0,0.018 9.5,0.015 10.0,0.01 10.5,0.003 11.0,-0.005 11.5,-0.015 12.0,-0.018 12.4,-0.016 12.6,-0.005 13.0,0.002 13.5,0.0 14,0.0"/>
<polyline class="b" points="0,0.028 1.3,0.028 1.35,0.032 1.4,0.028 4.0,0.028 4.2,0.04 4.4,0.058 4.55,0.03 4.7,0.028 6.8,0.028 6.85,0.025 6.9,0.028 7.9,0.028 8.1,0.035 8.3,0.046 8.5,0.03 8.7,0.028 12.6,0.028 12.65,0.035 12.7,0.028 13.2,0.028 13.3,0.035 13.4,0.028 13.6,0.045 13.75,0.065 13.9,0.06 14,0.065"/>
<polyline class="g" points="0,0.013 1.4,0.013 1.45,0.02 1.5,0.008 4.0,0.008 4.2,0.02 4.4,0.05 4.55,0.012 8.0,0.012 8.2,0.02 8.3,0.025 8.5,0.013 12.6,0.013 12.65,0.025 12.7,0.013 13.2,0.013 13.3,0.03 13.4,0.013 13.7,0.03 13.9,0.05 14,0.065"/>
</g></svg>
<rect class="ax" width="290" height="152"/>
<path class="tk" d="M0 152v4.9M41.43 152v4.9M82.86 152v4.9M124.29 152v4.9M165.71 152v4.9M207.14 152v4.9M248.57 152v4.9M290 152v4.9"/>
<path class="tk" d="M-4.9 48.1h4.9M-4.9 99.8h4.9M-4.9 151.5h4.9"/>
<text class="t" x="145" y="-8.3">02290769</text>
<text class="yl" x="-22.8" y="49.1" transform="rotate(-20 -22.8 49.1)">0.1</text>
<text class="yl" x="-22.8" y="100.8" transform="rotate(-20 -22.8 100.8)">0.0</text>
<text class="yl" x="-28.3" y="152.5" transform="rotate(-20 -28.3 152.5)">−0.1</text>
<g class="xl"><text x="0" y="181" transform="rotate(-20 0 181)">2018-05-01</text><text x="41.43" y="181" transform="rotate(-20 41.43 181)">2018-05-03</text><text x="82.86" y="181" transform="rotate(-20 82.86 181)">2018-05-05</text><text x="124.29" y="181" transform="rotate(-20 124.29 181)">2018-05-07</text><text x="165.71" y="181" transform="rotate(-20 165.71 181)">2018-05-09</text><text x="207.14" y="181" transform="rotate(-20 207.14 181)">2018-05-11</text><text x="248.57" y="181" transform="rotate(-20 248.57 181)">2018-05-13</text><text x="290" y="181" transform="rotate(-20 290 181)">2018-05-15</text></g>
</g>

<!-- P22 -->
<g transform="translate(459.7,982.3)">
<svg width="290" height="152" viewBox="0 -0.392 14 0.676" preserveAspectRatio="none"><g transform="scale(1,-1)">
<polyline class="o" points="0,0.02 0.26,-0.105 0.52,0.03 0.78,-0.115 1.03,0.038 1.29,-0.143 1.55,0.005 1.81,-0.188 2.07,-0.02 2.33,-0.206 2.59,-0.02 2.84,-0.22 3.1,-0.012 3.36,-0.191 3.62,0.018 3.88,-0.14 4.14,0.08 4.4,-0.06 4.65,0.136 4.91,-0.05 5.17,0.153 5.43,-0.042 5.69,0.163 5.94,-0.032 6.2,0.172 6.46,-0.035 6.72,0.178 6.98,-0.04 7.24,0.12 7.5,-0.06 7.76,0.04 8.01,-0.12 8.27,0.017 8.53,-0.135 8.79,0.015 9.05,-0.145 9.31,0.02 9.57,-0.135 9.82,0.028 10.08,-0.128 10.34,0.037 10.6,-0.117 10.86,0.047 11.12,-0.105 11.37,0.073 11.63,-0.086 11.89,0.104 12.15,-0.069 12.41,0.122 12.67,-0.064 12.93,0.139 13.19,-0.04 13.44,0.18 13.7,0.01 13.96,0.22 14,0.21"/>
<polyline class="b" points="0,0.02 0.3,-0.01 0.7,-0.03 1,-0.02 1.5,-0.05 2,-0.04 2.5,-0.06 3.5,-0.06 3.9,-0.04 4.1,-0.045 4.5,-0.06 5.5,-0.06 5.8,-0.09 6.2,-0.06 7,-0.065 7.6,-0.08 8,-0.065 8.5,-0.08 9,-0.09 9.6,-0.09 10,-0.11 10.4,-0.15 11.6,-0.15 11.9,-0.11 12.2,-0.13 12.5,-0.07 12.9,-0.07 13.2,-0.01 13.5,0.0 13.75,-0.02 13.9,0.12 14,0.18"/>
<polyline class="g" points="0,-0.04 0.3,-0.08 0.6,-0.07 1,-0.1 1.5,-0.11 2,-0.12 2.6,-0.15 3,-0.12 3.5,-0.12 4,-0.13 4.5,-0.12 5.0,-0.14 5.7,-0.14 6.1,-0.13 6.5,-0.15 7,-0.13 7.5,-0.15 8.5,-0.16 9.2,-0.19 9.8,-0.2 10.2,-0.25 10.5,-0.25 10.8,-0.22 11.5,-0.22 11.8,-0.17 12.1,-0.18 12.7,-0.12 13.2,-0.07 13.5,-0.06 13.7,-0.09 13.9,0.05 14,0.11"/>
</g></svg>
<rect class="ax" width="290" height="152"/>
<path class="tk" d="M0 152v4.9M41.43 152v4.9M82.86 152v4.9M124.29 152v4.9M165.71 152v4.9M207.14 152v4.9M248.57 152v4.9M290 152v4.9"/>
<path class="tk" d="M-4.9 43.2h4.9M-4.9 88.2h4.9M-4.9 133.1h4.9"/>
<text class="t" x="145" y="-8.3">022908205</text>
<text class="yl" x="-22.8" y="44.2" transform="rotate(-20 -22.8 44.2)">0.2</text>
<text class="yl" x="-22.8" y="89.2" transform="rotate(-20 -22.8 89.2)">0.0</text>
<text class="yl" x="-28.3" y="134.1" transform="rotate(-20 -28.3 134.1)">−0.2</text>
<g class="xl"><text x="0" y="181" transform="rotate(-20 0 181)">2018-05-01</text><text x="41.43" y="181" transform="rotate(-20 41.43 181)">2018-05-03</text><text x="82.86" y="181" transform="rotate(-20 82.86 181)">2018-05-05</text><text x="124.29" y="181" transform="rotate(-20 124.29 181)">2018-05-07</text><text x="165.71" y="181" transform="rotate(-20 165.71 181)">2018-05-09</text><text x="207.14" y="181" transform="rotate(-20 207.14 181)">2018-05-11</text><text x="248.57" y="181" transform="rotate(-20 248.57 181)">2018-05-13</text><text x="290" y="181" transform="rotate(-20 290 181)">2018-05-15</text></g>
</g>

<!-- P23 -->
<g transform="translate(858.2,982.3)">
<svg width="290" height="152" viewBox="0 -0.274 14 0.445" preserveAspectRatio="none"><g transform="scale(1,-1)">
<polyline class="o" points="0,0.055 0.26,-0.029 0.52,0.067 0.78,-0.036 1.03,0.078 1.29,-0.054 1.55,0.042 1.81,-0.081 2.07,0.008 2.33,-0.104 2.59,-0.008 2.84,-0.126 3.1,-0.011 3.36,-0.105 3.62,0.036 3.88,-0.069 4.14,0.075 4.4,-0.052 4.65,0.097 4.91,-0.042 5.17,0.112 5.43,-0.041 5.69,0.117 5.94,-0.04 6.2,0.106 6.46,-0.044 6.72,0.069 6.98,-0.05 7.24,0.046 7.5,-0.076 7.76,0.035 8.01,-0.1 8.27,0.022 8.53,-0.108 8.79,0.007 9.05,-0.115 9.31,0.007 9.57,-0.107 9.82,0.017 10.08,-0.098 10.34,0.027 10.6,-0.082 10.86,0.038 11.12,-0.067 11.37,0.048 11.63,-0.057 11.89,0.058 12.15,-0.046 12.41,0.076 12.67,-0.03 12.93,0.098 13.19,-0.008 13.44,0.118 13.7,0.023 13.96,0.139"/>
<polyline class="b" points="0,0.06 0.3,0.085 1,0.09 1.7,0.1 2,0.1 2.3,0.09 2.8,0.09 3.4,0.08 3.8,0.08 4.5,0.06 4.8,0.05 5.0,0.075 5.5,0.07 6,0.06 6.5,0.05 7,0.05 7.3,0.055 8,0.05 8.5,0.045 9.0,0.03 9.5,0.03 10.0,0.025 10.25,0.0 10.35,0.07 11,0.065 12,0.065 12.5,0.07 13,0.07 13.6,0.08 13.7,0.12 14,0.09"/>
<polyline class="g" points="0,0.0 0.3,0.02 1,0.03 1.7,0.04 2.2,0.03 3,0.03 3.5,0.025 4.2,0.0 4.6,-0.01 4.9,0.015 5.3,0.01 6,-0.01 6.7,-0.02 7,-0.01 8,-0.015 8.5,-0.015 9,-0.03 10,-0.03 10.2,-0.07 10.3,0.01 11,0.0 12,0.005 13,0.01 13.5,0.03 13.7,0.06 14,0.03"/>
</g></svg>
<rect class="ax" width="290" height="152"/>
<path class="tk" d="M0 152v4.9M41.43 152v4.9M82.86 152v4.9M124.29 152v4.9M165.71 152v4.9M207.14 152v4.9M248.57 152v4.9M290 152v4.9"/>
<path class="tk" d="M-4.9 25.3h4.9M-4.9 59.4h4.9M-4.9 93.6h4.9M-4.9 127.8h4.9"/>
<text class="t" x="145" y="-8.3">022908295</text>
<text class="yl" x="-22.8" y="26.3" transform="rotate(-20 -22.8 26.3)">0.2</text>
<text class="yl" x="-22.8" y="60.4" transform="rotate(-20 -22.8 60.4)">0.1</text>
<text class="yl" x="-22.8" y="94.6" transform="rotate(-20 -22.8 94.6)">0.0</text>
<text class="yl" x="-28.3" y="128.8" transform="rotate(-20 -28.3 128.8)">−0.1</text>
<g class="xl"><text x="0" y="181" transform="rotate(-20 0 181)">2018-05-01</text><text x="41.43" y="181" transform="rotate(-20 41.43 181)">2018-05-03</text><text x="82.86" y="181" transform="rotate(-20 82.86 181)">2018-05-05</text><text x="124.29" y="181" transform="rotate(-20 124.29 181)">2018-05-07</text><text x="165.71" y="181" transform="rotate(-20 165.71 181)">2018-05-09</text><text x="207.14" y="181" transform="rotate(-20 207.14 181)">2018-05-11</text><text x="248.57" y="181" transform="rotate(-20 248.57 181)">2018-05-13</text><text x="290" y="181" transform="rotate(-20 290 181)">2018-05-15</text></g>
</g>

<!-- P24 -->
<g transform="translate(1256.7,982.3)">
<svg width="290" height="152" viewBox="0 -0.563 14 1.507" preserveAspectRatio="none"><g transform="scale(1,-1)">
<polyline class="o8" points="0,-0.1 0.1,-0.22 0.32,0.08 0.57,-0.12 0.79,0.24 1.13,-0.25 1.36,0.1 1.58,-0.15 1.83,0.2 2.18,-0.35 2.4,0.02 2.63,-0.15 2.86,0.15 3.23,-0.35 3.46,0.02 3.68,-0.1 3.9,0.15 4.28,-0.28 4.49,0.0 4.68,-0.1 4.9,0.2 5.3,-0.22 5.5,0.12 5.73,-0.05 5.94,0.2 6.31,-0.2 6.56,0.15 6.78,-0.1 7.0,0.22 7.37,-0.25 7.61,0.07 7.84,-0.1 8.06,0.1 8.42,-0.25 8.66,0.1 8.9,-0.15 9.11,0.08 9.45,-0.22 9.69,0.15 9.93,-0.15 10.18,0.12 10.47,-0.2 10.71,0.18 10.99,-0.15 11.24,0.15 11.52,-0.2 11.73,0.22 12.04,-0.15 12.25,0.2 12.57,-0.2 12.78,0.2 13.06,-0.15 13.26,0.18 13.57,0.05 13.78,0.4 14,0.0"/>
<polyline class="b" points="0,-0.2 0.1,-0.37 0.32,0.18 0.57,-0.27 0.79,0.32 1.13,-0.37 1.36,0.12 1.58,-0.29 1.83,0.28 2.18,-0.57 2.4,-0.03 2.63,-0.29 2.86,0.27 3.23,-0.55 3.46,-0.02 3.68,-0.21 3.9,0.28 4.28,-0.34 4.49,-0.12 4.68,-0.24 4.9,0.21 5.3,-0.4 5.5,0.07 5.73,-0.11 5.94,0.2 6.31,-0.47 6.56,0.08 6.78,-0.24 7.0,0.16 7.37,-0.47 7.61,-0.08 7.84,-0.27 8.06,0.1 8.42,-0.57 8.66,0.1 8.9,-0.34 9.11,0.11 9.45,-0.45 9.69,0.23 9.93,-0.34 10.18,0.19 10.47,-0.47 10.71,0.28 10.99,-0.4 11.24,0.21 11.52,-0.47 11.73,0.3 12.04,-0.4 12.25,0.28 12.57,-0.44 12.78,0.23 13.06,-0.47 13.26,0.27 13.57,-0.17 13.78,0.49 14,0.15"/>
<polyline class="g" points="0,-0.3 0.1,-0.52 0.32,0.1 0.57,-0.45 0.79,0.24 1.13,-0.59 1.36,0.04 1.58,-0.42 1.83,0.2 2.18,-0.73 2.4,-0.11 2.63,-0.42 2.86,0.19 3.23,-0.68 3.46,-0.1 3.68,-0.33 3.9,0.2 4.28,-0.48 4.49,-0.2 4.68,-0.36 4.9,0.13 5.3,-0.55 5.5,-0.01 5.73,-0.23 5.94,0.12 6.31,-0.62 6.56,0.0 6.78,-0.38 7.0,0.08 7.37,-0.62 7.61,-0.16 7.84,-0.4 8.06,0.02 8.42,-0.7 8.66,0.02 8.9,-0.48 9.11,0.03 9.45,-0.6 9.69,0.15 9.93,-0.48 10.18,0.11 10.47,-0.62 10.71,0.2 10.99,-0.54 11.24,0.13 11.52,-0.62 11.73,0.22 12.04,-0.54 12.25,0.2 12.57,-0.58 12.78,0.15 13.06,-0.6 13.26,0.19 13.57,-0.38 13.78,0.37 14,0.05"/>
</g></svg>
<rect class="ax" width="290" height="152"/>
<path class="tk" d="M0 152v4.9M41.43 152v4.9M82.86 152v4.9M124.29 152v4.9M165.71 152v4.9M207.14 152v4.9M248.57 152v4.9M290 152v4.9"/>
<path class="tk" d="M-4.9 6.4h4.9M-4.9 56.8h4.9M-4.9 107.3h4.9"/>
<text class="t" x="145" y="-8.3">02290878</text>
<text class="yl" x="-22.8" y="7.4" transform="rotate(-20 -22.8 7.4)">0.5</text>
<text class="yl" x="-22.8" y="57.8" transform="rotate(-20 -22.8 57.8)">0.0</text>
<text class="yl" x="-28.3" y="108.3" transform="rotate(-20 -28.3 108.3)">−0.5</text>
<g class="xl"><text x="0" y="181" transform="rotate(-20 0 181)">2018-05-01</text><text x="41.43" y="181" transform="rotate(-20 41.43 181)">2018-05-03</text><text x="82.86" y="181" transform="rotate(-20 82.86 181)">2018-05-05</text><text x="124.29" y="181" transform="rotate(-20 124.29 181)">2018-05-07</text><text x="165.71" y="181" transform="rotate(-20 165.71 181)">2018-05-09</text><text x="207.14" y="181" transform="rotate(-20 207.14 181)">2018-05-11</text><text x="248.57" y="181" transform="rotate(-20 248.57 181)">2018-05-13</text><text x="290" y="181" transform="rotate(-20 290 181)">2018-05-15</text></g>
</g>

<!-- P25 -->
<g transform="translate(1655.2,982.3)">
<svg width="290" height="152" viewBox="0 -0.907 14 1.755" preserveAspectRatio="none"><g transform="scale(1,-1)">
<polyline class="b" style="stroke-width:3" points="0,-0.25 0.1,-0.45 0.3,0.23 0.55,-0.4 0.75,0.48 1.03,-0.45 1.32,0.21 1.56,-0.55 1.8,0.38 2.07,-0.3 2.35,0.09 2.6,-0.56 2.8,0.37 3.12,-0.3 3.4,0.06 3.63,-0.54 3.84,0.36 4.16,-0.4 4.44,-0.08 4.6,-0.18 4.86,0.23 5.17,-0.4 5.48,0.12 5.65,-0.08 5.88,0.28 6.2,-0.37 6.5,0.15 6.7,-0.04 6.95,0.22 7.26,-0.43 7.54,0.08 7.75,-0.18 8.0,0.16 8.31,-0.48 8.58,0.19 8.83,-0.22 9.07,0.23 9.35,-0.45 9.58,0.31 9.87,-0.33 10.08,0.3 10.39,-0.43 10.6,0.41 10.89,-0.33 11.13,0.31 11.42,-0.45 11.66,0.45 11.91,-0.39 12.17,0.35 12.44,-0.48 12.65,0.44 12.92,-0.37 13.18,0.37 13.44,-0.41 13.67,0.84 14,0.07"/>
<polyline class="g" style="stroke-width:3" points="0,-0.3 0.1,-0.51 0.3,0.14 0.55,-0.46 0.75,0.39 1.03,-0.51 1.32,0.12 1.56,-0.61 1.8,0.29 2.07,-0.36 2.35,0.0 2.6,-0.62 2.8,0.28 3.12,-0.36 3.4,-0.03 3.63,-0.6 3.84,0.27 4.16,-0.46 4.44,-0.14 4.6,-0.24 4.86,0.14 5.17,-0.46 5.48,0.03 5.65,-0.14 5.88,0.19 6.2,-0.43 6.5,0.06 6.7,-0.1 6.95,0.13 7.26,-0.49 7.54,-0.01 7.75,-0.24 8.0,0.07 8.31,-0.54 8.58,0.1 8.83,-0.28 9.07,0.14 9.35,-0.51 9.58,0.22 9.87,-0.39 10.08,0.21 10.39,-0.49 10.6,0.32 10.89,-0.39 11.13,0.22 11.42,-0.51 11.66,0.36 11.91,-0.45 12.17,0.26 12.44,-0.54 12.65,0.35 12.92,-0.43 13.18,0.28 13.44,-0.47 13.67,0.73 14,-0.15"/>
</g></svg>
<rect class="ax" width="290" height="152"/>
<path class="tk" d="M0 152v4.9M41.43 152v4.9M82.86 152v4.9M124.29 152v4.9M165.71 152v4.9M207.14 152v4.9M248.57 152v4.9M290 152v4.9"/>
<path class="tk" d="M-4.9 35.2h4.9M-4.9 78.5h4.9M-4.9 121.8h4.9"/>
<text class="t" x="145" y="-8.3">02290888</text>
<text class="yl" x="-22.8" y="36.2" transform="rotate(-20 -22.8 36.2)">0.5</text>
<text class="yl" x="-22.8" y="79.5" transform="rotate(-20 -22.8 79.5)">0.0</text>
<text class="yl" x="-28.3" y="122.8" transform="rotate(-20 -28.3 122.8)">−0.5</text>
<g class="xl"><text x="0" y="181" transform="rotate(-20 0 181)">2018-05-01</text><text x="41.43" y="181" transform="rotate(-20 41.43 181)">2018-05-03</text><text x="82.86" y="181" transform="rotate(-20 82.86 181)">2018-05-05</text><text x="124.29" y="181" transform="rotate(-20 124.29 181)">2018-05-07</text><text x="165.71" y="181" transform="rotate(-20 165.71 181)">2018-05-09</text><text x="207.14" y="181" transform="rotate(-20 207.14 181)">2018-05-11</text><text x="248.57" y="181" transform="rotate(-20 248.57 181)">2018-05-13</text><text x="290" y="181" transform="rotate(-20 290 181)">2018-05-15</text></g>
</g>

</svg>
</body></html>
